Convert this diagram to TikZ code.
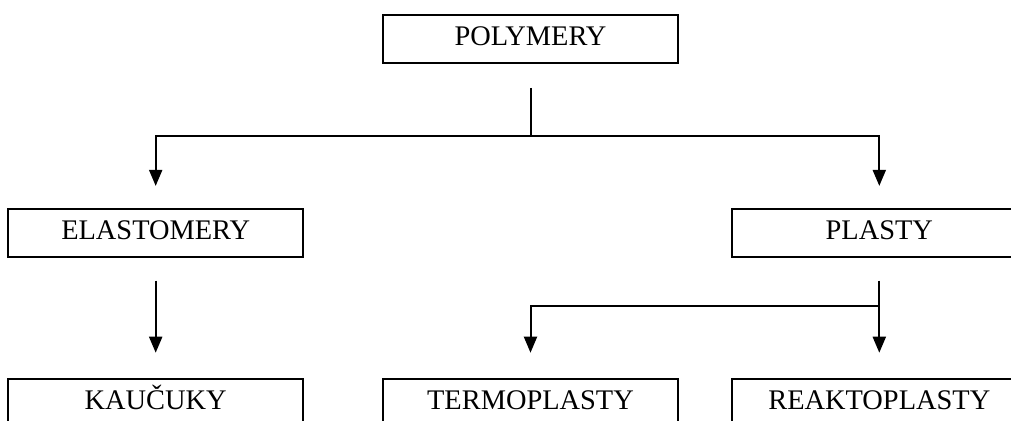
\documentclass[tikz,border=0pt]{standalone}
\usepackage{fontspec}
\setmainfont{Liberation Serif}
\usetikzlibrary{positioning, arrows.meta}

\begin{document}
\begin{tikzpicture}[
		> = {Triangle[length=8pt, width=6.5pt]}, % arrow head style
		line width = 1pt, % line style
		font = \fontsize{14.2}{17}\selectfont
		]
		
		\tikzstyle{class}=[
		rectangle,
		draw = black,
		line width = 0.9pt,
		minimum width = 147.5pt,
		minimum height = 24pt,
		inner sep = 0pt,
		text height = 9.4pt,
		text depth = 2.5pt
		]
		
		% fixed frame of the picture
		\useasboundingbox (-265.25pt,19.5pt) rectangle (240.25pt,-190.5pt);
		\clip (-265.25pt,19.5pt) rectangle (240.25pt,-190.5pt);
		
		\node[class] (root) at (0,0) {POLYMERY};
		\node[class] (elast) [below left=72pt and 39pt of root] {ELASTOMERY};
		\node[class] (plasty) [below right=72pt and 26pt of root] {PLASTY};
		
		\node[class] (kaucuky) [below=60pt of elast] {KAUČUKY};
		\node[class] (termo) [right=39pt of kaucuky] {TERMOPLASTY};
		\node[class] (reakto) [below=60pt of plasty] {REAKTOPLASTY};
		
		\coordinate (fork1) at ([yshift=-36pt]root.south);
		\coordinate (fork2) at ([yshift=-24pt]plasty.south);
		
		\draw[shorten <=12pt] (root.south) -- (fork1);
		\draw[->, shorten >=11pt] (fork1) -| (elast.north);
		\draw[->, shorten >=11pt] (fork1) -| (plasty.north);
		
		\draw[->, shorten <=11.5pt, shorten >=12.5pt] (elast) -- (kaucuky);
		\draw[->, shorten <=11.5pt, shorten >=12.5pt] (plasty) -- (reakto);
		\draw[->, shorten >=12.5pt] (fork2) -| (termo.north);
	\end{tikzpicture}
\end{document}
